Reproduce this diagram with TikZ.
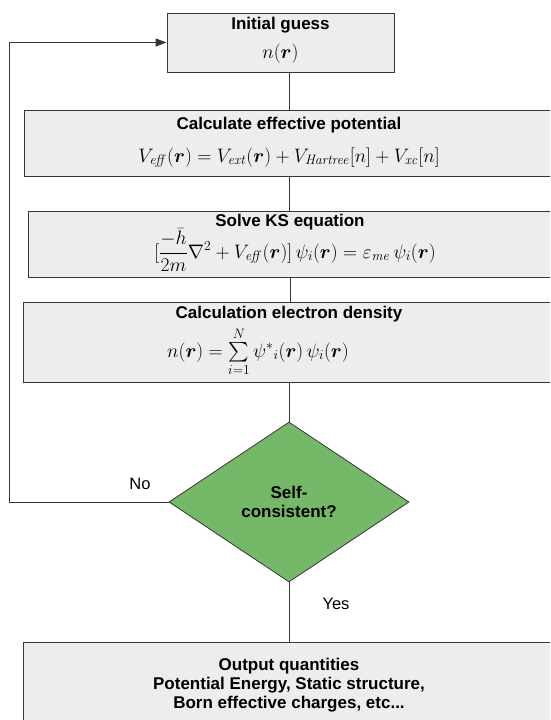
\RequirePackage{fix-cm}
\documentclass[tikz,border=0pt]{standalone}
\usepackage{amsmath,amssymb}
\usepackage[no-math]{fontspec}
\setmainfont{Liberation Sans}
\usepackage{xcolor}
\usepackage{tikz}
\usetikzlibrary{arrows.meta,positioning,shapes.geometric}

\definecolor{boxgray}{RGB}{237,237,237}
\definecolor{boxline}{RGB}{54,54,54}
\definecolor{checkgreen}{RGB}{117,185,104}
\newcommand{\rv}{\boldsymbol{r}}
\newcommand{\mfont}{\fontsize{19.5}{22}\selectfont}
% title, formula, gap between the lines, depth below the formula
\newcommand{\steptext}[4]{\rule{0pt}{13pt}#1\\[#3]\raisebox{0pt}[0pt][0pt]{\mfont$#2$}\rule[-#4]{0pt}{#4}}

\begin{document}
\begin{tikzpicture}[x=1pt,y=-1pt,
    procbox/.style={draw=boxline, fill=boxgray, line width=1pt, align=center, inner sep=0pt,
        font=\fontsize{17}{19}\selectfont\bfseries},
    checkbox/.style={diamond, draw=boxline, fill=checkgreen, line width=0.8pt, inner sep=0pt,
        minimum width=240pt, minimum height=160pt, align=center,
        font=\fontsize{17}{19}\selectfont\bfseries},
    flow/.style={draw=boxline, line width=1pt},
    lbl/.style={font=\fontsize{16.5}{19}\selectfont}]
                % Page
                \clip (0,0) rectangle (550,720);

                % Steps of the loop
                \node[procbox, minimum width=227pt, minimum height=59pt] (init) at (280.5,42.5)
                    {\steptext{Initial guess}{n(\rv)}{10pt}{11pt}};
                \node[procbox, minimum width=530pt, minimum height=66pt] (effpot) at (289,143)
                    {\steptext{Calculate effective potential}{V_{\mathit{eff}}(\rv)=V_{\mathit{ext}}(\rv)+V_{\mathit{Hartree}}[n]+V_{\mathit{xc}}[n]}{14pt}{8pt}};
                \node[procbox, minimum width=524pt, minimum height=66pt] (kseq) at (290,244)
                    {\steptext{Solve KS equation}{\hspace{10pt}[\dfrac{-\bar{h}}{2m}\nabla^{2}+V_{\mathit{eff}}(\rv)]\,\psi_{i}(\rv)=\varepsilon_{\mathit{me}}\,\psi_{i}(\rv)}{13pt}{17pt}};
                \node[procbox, minimum width=532pt, minimum height=80pt] (density) at (289,342)
                    {\steptext{Calculation electron density}{n(\rv)=\sum\limits_{i=1}^{N}\psi^{*}{}_{i}(\rv)\,\psi_{i}(\rv)\hspace{62pt}}{20pt}{22pt}};

                % Decision
                \node[checkbox] (check) at (289,502) {Self-\\consistent?};

                % Result
                \node[procbox, minimum width=532pt, minimum height=86pt] (output) at (289,685)
                    {Output quantities\\Potential Energy, Static structure,\\Born effective charges, etc...};

                % Connectors
                \draw[flow] (init.south -| effpot.north) -- (effpot.north);
                \draw[flow] (effpot.south) -- (kseq.north -| effpot.south);
                \draw[flow] (kseq.south) -- (density.north -| kseq.south);
                \draw[flow] (density.south) -- (check.north);
                \draw[flow] (check.south) -- (output.north -| check.south);

                % Back to the start
                \coordinate (back) at (9,502);
                \draw[flow, -{Triangle[length=11pt,width=8pt]}] (check.west) -- (back) |- (init.west);
                \node[lbl] (no) at (140,484) {No};
                \node[lbl] (yes) at (336,604) {Yes};
\end{tikzpicture}
\end{document}
